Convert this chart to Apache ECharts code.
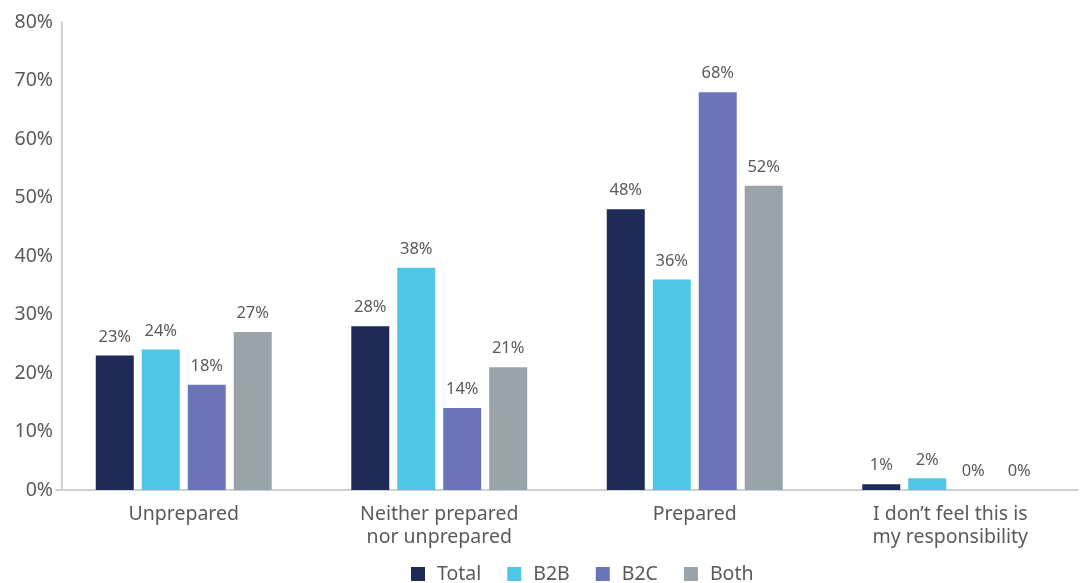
<!DOCTYPE html>
<html>
<head>
<meta charset="utf-8">
<script src="https://cdn.jsdelivr.net/npm/echarts@6/dist/echarts.min.js"></script>
<style>
  html, body { margin: 0; padding: 0; background: #fff; }
  #chart { width: 1089px; height: 583px; }
</style>
</head>
<body>
<div id="chart"></div>
<script>
// preparedness by business type
var categories = ['Unprepared', 'Neither prepared\nnor unprepared', 'Prepared', 'I don\u2019t feel this is\nmy responsibility'];
var totalValues = [23, 28, 48, 1];
var b2bValues = [24, 38, 36, 2];
var b2cValues = [18, 14, 68, 0];
var bothValues = [27, 21, 52, 0];
var yTicks = [0, 10, 20, 30, 40, 50, 60, 70, 80];

var seriesNames = ['Total', 'B2B', 'B2C', 'Both'];
var seriesColors = ['#1e2a57', '#4fc6e3', '#6b74b8', '#99a3a8'];
var seriesData = [totalValues, b2bValues, b2cValues, bothValues];

var textColor = '#5a5a5a';
var font = '"Noto Sans", sans-serif';

var chart = echarts.init(document.getElementById('chart'));

var series = seriesNames.map(function (name, i) {
    return {
        name: name,
        type: 'bar',
        data: seriesData[i],
        barWidth: 38,
        barGap: '21%',
        itemStyle: { color: seriesColors[i] },
        label: {
            show: true,
            position: 'top',
            distance: 10,
            color: textColor,
            fontFamily: font,
            fontSize: 16.5,
            formatter: '{c}%'
        }
    };
});

var option = {
    animation: false,
    grid: { left: 56, right: 11, top: 22, bottom: 93, containLabel: false },
    legend: {
        data: seriesNames,
        top: 564,
        left: 411,
        padding: 0,
        icon: 'rect',
        itemWidth: 14,
        itemHeight: 14,
        itemGap: 26,
        textStyle: { color: textColor, fontFamily: font, fontSize: 19.5, padding: [0, 0, 0, 7] }
    },
    xAxis: {
        type: 'category',
        data: categories,
        axisLine: { lineStyle: { color: '#d0d0d0', width: 2 } },
        axisTick: { show: false },
        axisLabel: {
            color: textColor,
            fontFamily: font,
            fontSize: 19.5,
            lineHeight: 23,
            margin: 13,
            interval: 0
        }
    },
    yAxis: {
        type: 'value',
        min: yTicks[0],
        max: yTicks[yTicks.length - 1],
        interval: 10,
        offset: -6,
        axisLine: { show: true, lineStyle: { color: '#d0d0d0', width: 2 } },
        axisTick: { show: false },
        splitLine: { show: false },
        axisLabel: {
            color: textColor,
            fontFamily: font,
            fontSize: 19.5,
            margin: 9,
            formatter: '{value}%'
        }
    },
    series: series
};

chart.setOption(option);
</script>
</body>
</html>
